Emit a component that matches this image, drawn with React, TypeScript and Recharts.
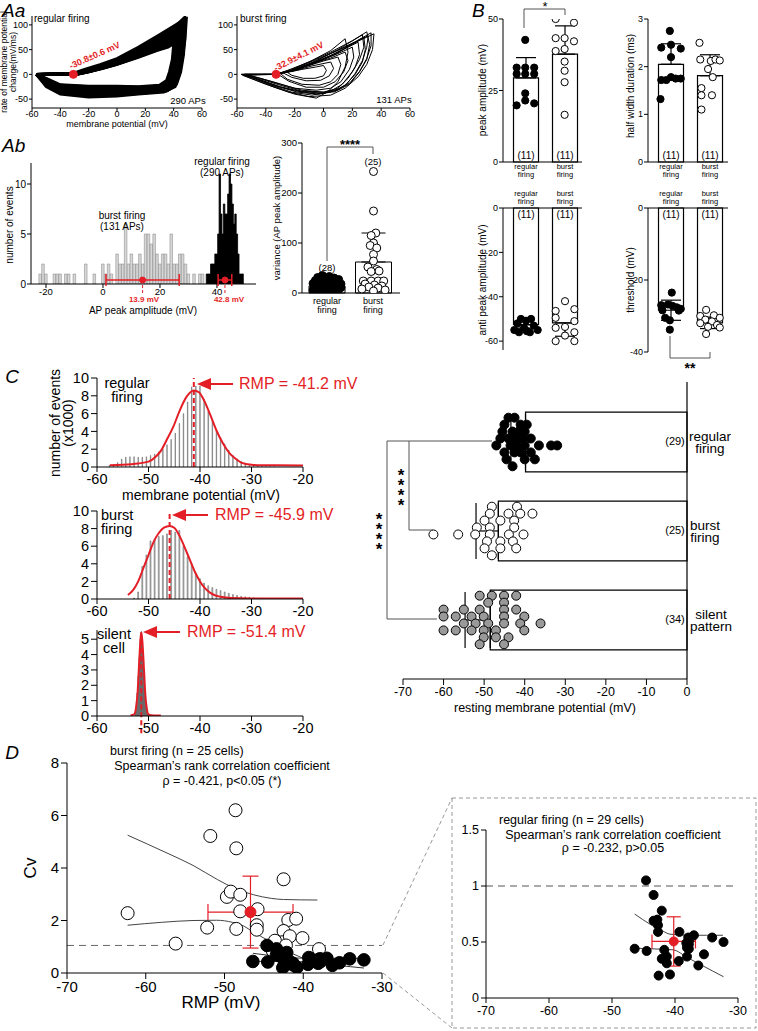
import React from "react";
import {
  Area,
  Bar,
  ComposedChart,
  ErrorBar,
  Line,
  ReferenceArea,
  ReferenceLine,
  Scatter,
  XAxis,
  YAxis,
} from "recharts";

const FONT = '"Liberation Sans", Arial, Helvetica, sans-serif';
const RED = "#e41e26";

type P = [number, number];

// ---------- Aa: phase plots (representative traces) ----------
const phaseTicksX = [-60, -40, -20, 0, 20, 40, 60];
const phaseTicksY = [-50, 0, 50, 100];
const regularThreshold: P = [-30.8, 0];
const burstThreshold: P = [-32.9, 0];

const regularLoops: P[][] = [
  [[-57,0],[-48,1],[-38,2],[-31,1],[-24,6],[-12,16],[0,30],[15,52],[30,78],[42,100],[48,116],[48,80],[47,40],[45,5],[42,-20],[36,-32],[20,-38],[0,-42],[-20,-44],[-40,-38],[-50,-22],[-57,0]],
  [[-57,0],[-48,1],[-38,1],[-31,0],[-22,7],[-10,17],[0,27],[15,46],[30,70],[42,94],[47,108],[46,70],[45,30],[43,0],[40,-22],[34,-33],[20,-36],[0,-38],[-20,-40],[-40,-35],[-50,-18],[-57,0]],
  [[-57,0],[-48,0],[-38,1],[-31,0],[-22,6],[-10,15],[0,25],[15,42],[30,62],[40,82],[46,98],[45,60],[43,20],[41,-5],[38,-25],[30,-32],[20,-34],[0,-35],[-20,-36],[-40,-31],[-50,-15],[-57,0]],
  [[-57,0],[-48,0],[-38,1],[-30,0],[-20,6],[-10,14],[0,23],[15,40],[30,58],[38,72],[44,88],[43,50],[41,15],[39,-10],[36,-25],[28,-30],[0,-30],[-20,-31],[-40,-27],[-50,-12],[-57,0]],
  [[-57,0],[-48,0],[-38,0],[-29,0],[-20,5],[-10,13],[0,21],[15,36],[30,52],[37,62],[42,75],[41,40],[39,10],[37,-12],[33,-24],[20,-28],[0,-27],[-20,-27],[-40,-24],[-50,-10],[-57,0]],
  [[-57,0],[-48,0],[-38,0],[-28,0],[-20,5],[-10,12],[0,20],[15,34],[28,48],[36,55],[40,62],[39,30],[37,5],[35,-12],[30,-22],[15,-25],[0,-24],[-20,-24],[-40,-21],[-50,-8],[-57,0]],
  [[-57,0],[-48,1],[-38,2],[-31,2],[-24,9],[-12,20],[0,32],[15,55],[30,80],[43,103],[49,112],[48,70],[46,30],[44,0],[41,-25],[33,-36],[15,-40],[0,-44],[-20,-46],[-40,-40],[-50,-25],[-57,0]],
  [[-57,0],[-48,1],[-38,1],[-31,1],[-23,8],[-11,18],[0,28],[15,48],[30,70],[40,85],[45,95],[44,55],[42,20],[40,-8],[37,-28],[25,-34],[0,-40],[-20,-42],[-40,-37],[-50,-20],[-57,0]],
  [[-57,0],[-48,1],[-38,1],[-31,1],[-23,8],[-11,19],[0,29],[15,50],[30,74],[42,97],[48,110],[47,75],[46,35],[44,2],[41,-23],[35,-34],[20,-37],[0,-40],[-20,-42],[-40,-36],[-50,-20],[-57,0]],
  [[-57,0],[-48,0],[-38,1],[-31,0],[-22,7],[-10,16],[0,26],[15,44],[30,66],[41,88],[46,102],[45,65],[44,25],[42,-3],[39,-24],[32,-32],[20,-35],[0,-36],[-20,-38],[-40,-33],[-50,-16],[-57,0]],
  [[-57,0],[-48,0],[-38,1],[-30,0],[-21,6],[-10,15],[0,24],[15,41],[30,60],[39,77],[45,92],[44,55],[42,18],[40,-8],[37,-26],[29,-31],[0,-33],[-20,-33],[-40,-29],[-50,-13],[-57,0]],
  [[-57,0],[-48,0],[-38,0],[-29,0],[-20,6],[-10,13],[0,22],[15,38],[30,55],[38,68],[43,82],[42,45],[40,12],[38,-11],[35,-24],[25,-29],[0,-28],[-20,-29],[-40,-25],[-50,-11],[-57,0]],
  [[-57,0],[-48,0],[-38,0],[-28,0],[-20,5],[-10,12],[0,20],[15,35],[29,50],[36,58],[41,68],[40,35],[38,8],[36,-12],[32,-23],[18,-26],[0,-25],[-20,-25],[-40,-22],[-50,-9],[-57,0]],
];

const burstLoops: P[][] = [
  [[-57,0],[-50,-1],[-40,0],[-33,0],[-25,8],[-10,25],[5,45],[20,68],[30,86],[32,60],[30,30],[25,5],[18,-20],[10,-32],[0,-38],[-15,-35],[-30,-25],[-45,-10],[-57,0]],
  [[-55,0],[-45,0],[-33,0],[-25,6],[-10,20],[5,38],[18,58],[28,75],[29,50],[27,25],[22,0],[15,-22],[8,-35],[-5,-40],[-20,-33],[-35,-22],[-48,-8],[-55,0]],
  [[-55,0],[-45,0],[-33,0],[-22,8],[-8,22],[8,42],[24,65],[25,40],[22,15],[17,-8],[10,-28],[0,-36],[-15,-32],[-30,-20],[-45,-7],[-55,0]],
  [[-56,-2],[-45,-1],[-33,0],[-22,9],[-5,30],[15,55],[35,82],[34,50],[30,20],[24,-5],[15,-28],[5,-42],[-10,-45],[-25,-35],[-40,-20],[-56,-2]],
  [[-54,0],[-44,0],[-33,0],[-20,8],[-5,25],[10,42],[20,55],[21,35],[18,10],[12,-15],[5,-28],[-5,-32],[-20,-28],[-35,-15],[-54,0]],
  [[-30,2],[-20,8],[-10,18],[0,27],[10,35],[12,20],[10,0],[5,-15],[-3,-22],[-15,-20],[-25,-10],[-30,2]],
  [[-28,3],[-18,9],[-8,17],[5,25],[7,12],[4,-3],[-2,-12],[-12,-13],[-22,-6],[-28,3]],
  [[-25,4],[-15,10],[-5,15],[0,18],[2,8],[0,-3],[-6,-8],[-14,-8],[-22,-2],[-25,4]],
  [[-57,0],[-45,0],[-33,0],[-22,10],[-8,28],[5,48],[15,72],[17,45],[15,15],[10,-15],[3,-35],[-5,-48],[-20,-40],[-35,-25],[-50,-8],[-57,0]],
  [[-56,0],[-45,0],[-33,0],[-22,7],[-8,20],[8,40],[25,70],[31,78],[30,55],[27,28],[22,2],[16,-20],[8,-33],[-3,-40],[-18,-36],[-32,-24],[-46,-9],[-56,0]],
  [[-56,0],[-45,0],[-33,0],[-22,8],[-8,24],[8,46],[22,66],[33,84],[33,58],[30,32],[25,6],[18,-18],[10,-30],[0,-36],[-15,-34],[-30,-22],[-45,-8],[-56,0]],
  [[-55,0],[-44,0],[-33,0],[-20,9],[-6,26],[10,50],[27,80],[28,55],[25,30],[20,5],[13,-20],[5,-34],[-8,-42],[-22,-36],[-38,-20],[-55,0]],
  [[-32,1],[-22,7],[-10,20],[5,33],[15,45],[17,28],[14,5],[8,-15],[0,-26],[-12,-26],[-24,-14],[-32,1]],
];

// ---------- Ab: AP peak amplitude histogram ----------
const burstPeakHist: P[] = [
  [-22,1],[-21,2],[-20,1],[-17,1],[-16,1],[-15,1],[-13,1],[-12,1],[-10,1],[-6,2],[-3,1],[0,2],[1,1],[2,2],
  [3,1],[5,3],[6,2],[7,2],[8,6],[9,2],[10,3],[11,2],[12,2],[13,3],[14,2],[15,5],[16,5],[17,4],[18,5],
  [19,3],[20,2],[21,3],[22,3],[23,2],[24,5],[25,2],[26,2],[27,3],[28,3],[29,2],[30,1],[32,1],[34,1],[35,1],
];
const regularPeakHist: P[] = [
  [36,0],[36.5,1],[37,1],[37.5,1],[38,2],[38.5,2],[39,2],[39.5,3],[40,3],[40.5,5],[41,11],[41.5,7],[42,5],[42.5,8],
  [43,7],[43.5,7],[44,9],[44.5,11],[45,10],[45.5,8],[46,6],[46.5,7],[47,5],[47.5,3],[48,1],[48.5,1],[49,1],[49.5,0],
];
const peakMeans = [
  { x: 13.9, y: 0.4, e: 12.85 },
  { x: 42.8, y: 0.4, e: 2.4 },
];

// ---------- Ab: variance ----------
const varianceMean = [14, 62];
const varianceSD: P[] = [[0, 9], [0, 58]];
const varianceRegular: P[] = [
  [35,-0.1],[33,0.05],[31,-0.2],[30,0.15],[28,-0.05],[27,0.25],[25,-0.25],[24,0.1],[22,-0.12],[21,0.2],
  [20,0],[19,-0.3],[18,0.3],[17,-0.15],[16,0.12],[15,-0.05],[14,0.22],[13,-0.25],[12,0.05],[11,0.3],
  [10,-0.2],[9,0.12],[8,-0.08],[7,0.25],[6,-0.3],[5,0.05],[4,-0.15],[3,0.18],
];
const varianceBurst: P[] = [
  [243,0],[164,0],[120,0.05],[115,-0.05],[100,0],[95,-0.07],[90,0.07],[77,0],[64,0],[52,-0.12],[47,0.07],
  [43,-0.05],[44,0.12],[24,-0.22],[24,-0.05],[24,0.1],[24,0.22],[18,-0.18],[16,0.02],[14,0.18],[12,-0.1],
  [10,0.1],[8,-0.25],[6,0.25],[4,0],
];

// ---------- B: AP parameters (value, jitter) ----------
const peakAmpMean = [29.4, 37.7];
const peakAmpSD: P[] = [[0, 7.1], [0, 9.9]];
const peakAmpRegular: P[] = [[42.7,-0.02],[33,-0.24],[33,-0.02],[33,0.21],[30.8,-0.24],[30.8,-0.02],[30.8,0.21],[24,-0.02],[21.5,-0.02],[20.5,0.21],[19.8,-0.24]];
const peakAmpBurst: P[] = [[50,-0.24],[48.7,0.23],[43.3,-0.24],[43.3,-0.01],[42.2,0.23],[38.8,-0.24],[39.5,-0.01],[35.1,-0.01],[31.9,-0.01],[27.9,-0.01],[16.5,-0.01]];

const halfWidthMean = [2.05, 1.81];
const halfWidthSD: P[] = [[0, 0.43], [0, 0.44]];
const halfWidthRegular: P[] = [[2.75,-0.03],[2.4,-0.25],[2.46,0],[2.38,0.25],[2.2,0],[1.78,0],[1.72,-0.25],[1.75,0.12],[1.75,0.25],[1.72,-0.12],[1.32,-0.27]];
const halfWidthBurst: P[] = [[2.5,-0.27],[2.15,-0.25],[2.12,0.02],[2.15,0.14],[2.13,0.25],[1.95,-0.05],[1.78,0.07],[1.55,-0.22],[1.4,-0.22],[1.4,0.05],[1.1,-0.22]];

const antiPeakMean = [-52.6, -51.8];
const antiPeakSD: P[] = [[1.5, 0], [6, 0]];
const antiPeakRegular: P[] = [[-50,-0.13],[-50,0.13],[-50.8,0],[-52,-0.22],[-53,0.2],[-54,-0.05],[-55,-0.3],[-55,0.3],[-56,-0.18],[-56,0.1],[-55.5,0.02]];
const antiPeakBurst: P[] = [[-42,0],[-46.4,-0.24],[-45.6,0.24],[-49.5,-0.24],[-51,0.24],[-54,-0.24],[-53.6,0],[-56,0.24],[-57.5,0],[-60,-0.24],[-60,0.24]];

const thresholdMean = [-28.4, -31.9];
const thresholdSD: P[] = [[2.8, 2.8], [1.6, 1.6]];
const thresholdRegular: P[] = [[-23.5,0.02],[-27,-0.25],[-26.8,-0.08],[-27.2,0.04],[-27.6,0.15],[-28,0.25],[-28.4,-0.22],[-28.5,0.2],[-30.5,-0.15],[-31.2,-0.03],[-33.8,-0.03]];
const thresholdBurst: P[] = [[-28.3,-0.1],[-30,-0.25],[-29.8,0.1],[-30.5,0.25],[-31,-0.12],[-31.5,0.05],[-32,-0.25],[-32.5,0.18],[-33,-0.05],[-33.2,0.25],[-35,-0.1]];

// ---------- C: membrane potential histograms (x1000) ----------
const mpTicks = [-60, -50, -40, -30, -20];
const countTicks = [0, 2, 4, 6, 8, 10];
const silentTicks = [0, 1, 2, 3, 4, 5];
const regularMpHist: P[] = [
  [-57.6,0.2],[-56.8,0.3],[-56,0.5],[-55.2,0.9],[-54.4,1.1],[-53.6,1.15],[-52.8,1.15],[-52,1.1],[-51.2,1.1],
  [-50.4,1.15],[-49.6,1.3],[-48.8,1.45],[-48,1.7],[-47.2,2],[-46.4,2.5],[-45.6,3.1],[-44.8,3.8],[-44,4.9],
  [-43.2,6],[-42.4,7.3],[-41.6,9],[-40.8,9.1],[-40,9.1],[-39.2,7.6],[-38.4,6.3],[-37.6,5.2],[-36.8,4.1],
  [-36,3.3],[-35.2,2.6],[-34.4,1.9],[-33.6,1.3],[-32.8,0.9],[-32,0.65],[-31.2,0.45],[-30.4,0.3],[-29.6,0.2],
  [-28.8,0.15],[-28,0.1],[-27.2,0.05],[-26.4,0.05],[-25.6,0.03],
];
const regularMpFit: P[] = [
  [-57.5,0.2],[-55,0.25],[-52,0.4],[-50,0.6],[-48.5,1.2],[-47.5,1.9],[-46.5,3],[-45.2,4.5],[-43.9,6.4],
  [-42.6,7.9],[-41.2,8.6],[-40.2,8.4],[-39.4,7.7],[-38.1,6],[-36.8,4.1],[-35.5,2.6],[-34.2,1.5],[-33,0.9],
  [-32,0.5],[-30,0.25],[-28,0.2],[-20,0.18],
];
const burstMpHist: P[] = [
  [-52.8,0.1],[-52,0.8],[-51.2,3.7],[-50.4,5],[-49.6,6.6],[-48.8,6.8],[-48,7.1],[-47.2,7.2],[-46.4,7.4],
  [-45.6,7.8],[-44.8,7.6],[-44,7.8],[-43.2,6],[-42.4,4.8],[-41.6,4],[-40.8,2.9],[-40,2.3],[-39.2,1.8],
  [-38.4,1.5],[-37.6,1.3],[-36.8,1.1],[-36,0.95],[-35.2,0.8],[-34.4,0.65],[-33.6,0.5],[-32.8,0.4],[-32,0.3],
  [-31.2,0.25],[-30.4,0.2],[-29.6,0.15],[-28.8,0.1],[-28,0.07],[-27.2,0.05],[-26.4,0.03],
];
const burstMpFit: P[] = [
  [-54,0.45],[-53,1],[-52,2],[-51,3.5],[-50,5],[-49,6.5],[-48,7.5],[-47,8.1],[-45.9,8.3],[-45,8.1],[-44,7.2],
  [-43,5.9],[-42,4.5],[-41,3.1],[-40,2],[-39,1.2],[-38,0.7],[-37,0.4],[-36,0.25],[-34,0.1],[-30,0.05],[-20,0.05],
];
const silentMpHist: P[] = [
  [-52.6,0.2],[-52.4,0.6],[-52.2,1.5],[-52,2.6],[-51.8,3.8],[-51.6,5],[-51.4,5.5],[-51.2,5],[-51,3.9],
  [-50.8,2.7],[-50.6,1.5],[-50.4,0.8],[-50.2,0.4],[-50,0.15],[-49.8,0.05],
];
const silentMpFit: P[] = [
  [-53.5,0.03],[-52.8,0.1],[-52.4,0.6],[-52.1,1.6],[-51.9,2.9],[-51.7,4.2],[-51.5,5.2],[-51.4,5.4],[-51.2,4.9],
  [-51,3.8],[-50.8,2.5],[-50.6,1.3],[-50.3,0.4],[-50,0.1],[-49,0.03],[-47.6,0.03],
];
const rmpFits = [-41.2, -45.9, -51.4];

// ---------- C: resting membrane potential by pattern (value, swarm row) ----------
const rmpTicks = [-70, -60, -50, -40, -30, -20, -10, 0];
const rmpRegular: P[] = [
  [-44,-3.5],[-42.5,-3.5],[-45,-2.5],[-41,-2.5],[-39.5,-2.5],[-45.5,-1.5],[-43,-1.5],[-41.5,-1.5],[-40,-1.5],
  [-46,-0.5],[-44,-0.5],[-42,-0.5],[-40.5,-0.5],[-38.5,-0.5],[-47,0.5],[-43.5,0.5],[-42,0.5],[-40,0.5],
  [-36.5,0.5],[-33.5,0.5],[-32,0.5],[-45,1.5],[-42.5,1.5],[-41,1.5],[-38.5,1.5],[-44.5,2.5],[-40,2.5],
  [-37.5,2.5],[-43,3.5],
];
const rmpBurst: P[] = [
  [-48.1,-3.5],[-41.9,-3.5],[-48.6,-2.5],[-44,-2.5],[-41.1,-2.5],[-38.1,-2.5],[-49.9,-1.5],[-46,-1.5],
  [-42.6,-1.5],[-51.8,-0.5],[-48.6,-0.5],[-42.6,-0.5],[-62.5,0.5],[-56.4,0.5],[-52.2,0.5],[-48.6,0.5],
  [-43.9,0.5],[-40.3,0.5],[-49.3,1.5],[-46,1.5],[-42.9,1.5],[-49.9,2.5],[-46,2.5],[-42.1,2.5],[-48.1,3.5],
];
const rmpSilent: P[] = [
  [-51.1,-3.5],[-48.1,-3.5],[-45.1,-3.5],[-42.1,-3.5],[-49,-2.5],[-45.1,-2.5],[-60,-1.5],[-55,-1.5],
  [-51.1,-1.5],[-45.1,-1.5],[-42.1,-1.5],[-60,-0.5],[-57,-0.5],[-53.1,-0.5],[-50.1,-0.5],[-45.1,-0.5],
  [-40.1,-0.5],[-55,0.5],[-52.1,0.5],[-49,0.5],[-45.1,0.5],[-41.1,0.5],[-36.1,0.5],[-60,1.5],[-57,1.5],
  [-53.1,1.5],[-50.1,1.5],[-47.1,1.5],[-40.1,1.5],[-50.1,2.5],[-47.1,2.5],[-44,2.5],[-51.1,3.5],[-45.1,3.5],
];
const rmpMean = [-39.8, -46.5, -48.5];
const rmpSD = [3.6, 5.5, 6.2];

// ---------- D: Cv vs RMP ----------
const cvTicksX = [-70, -60, -50, -40, -30];
const cvTicksY = [0, 2, 4, 6, 8];
const insetTicksY = [0, 0.5, 1, 1.5];
const cvBurst: P[] = [
  [-62.3,2.28],[-56.2,1.12],[-52.2,1.73],[-51.8,5.22],[-49.7,2.9],[-49.2,3.1],[-48.6,6.2],[-48.5,4.75],
  [-48.5,1.68],[-48,2.98],[-48,2.35],[-45.8,2.43],[-45.9,1.82],[-45.9,1.65],[-42.5,3.57],[-41.9,2.02],
  [-40.9,2.07],[-42.5,1.6],[-42.7,1.17],[-41.7,1.4],[-43.6,1.23],[-40.1,1.33],[-43.9,0.86],[-38,0.91],[-42.2,1.05],
];
const cvRegular: P[] = [
  [-44.6,1.05],[-43.4,0.92],[-42.1,0.78],[-43.4,0.69],[-42.8,0.7],[-42.7,0.65],[-42.7,0.59],[-39.3,0.59],
  [-46.4,0.44],[-44.5,0.42],[-41.7,0.43],[-42.1,0.35],[-41.3,0.37],[-41.3,0.31],[-42.6,0.2],[-40.8,0.21],
  [-39.4,0.33],[-37.9,0.54],[-37,0.56],[-38.2,0.49],[-37.8,0.48],[-38.1,0.45],[-37.8,0.44],[-38.1,0.37],
  [-36.3,0.29],[-35.4,0.39],[-34.1,0.54],[-32.3,0.5],[-37.7,0.52],
];
const burstCiUpper: P[] = [[-62.3,5.25],[-57.3,4.57],[-54,4.1],[-50.9,3.56],[-48.5,3.2],[-46.3,2.98],[-44,2.84],[-42.5,2.8],[-38.2,2.78]];
const burstCiLower: P[] = [[-62.3,1.82],[-58,1.93],[-54,2],[-51,2.01],[-49,1.93],[-47.5,1.78],[-46.3,1.55],[-44.5,1.25],[-42.5,0.9],[-40.3,0.6],[-38.5,0.4]];
const regularCiUpper: P[] = [[-46.4,0.75],[-44,0.66],[-42,0.6],[-40.8,0.57],[-38,0.56],[-35,0.56],[-32.4,0.56]];
const regularCiLower: P[] = [[-46.4,0.445],[-44,0.44],[-42,0.435],[-40.3,0.43],[-38,0.36],[-36,0.3],[-34,0.24],[-32.3,0.19]];
const cvBurstMean = { x: -46.7, y: 2.32, ex: 5.4, ey: 1.37 };
const cvRegularMean = { x: -40.2, y: 0.505, ex: 3.45, ey: 0.22 };

// ---------- helpers ----------
const xy = (pts: P[]) => pts.map(([x, y]) => ({ x, y }));
const jit = (pts: P[], c: number) => pts.map(([v, o]) => ({ x: c + o, y: v }));

const yTick = (fs: number) => (p: any) => (
  <text x={p.x} y={p.y} dy="0.35em" textAnchor="end" fontSize={fs} fontFamily={FONT} fill="#000">
    {p.payload.value}
  </text>
);
const xTick = (fs: number) => (p: any) => (
  <text x={p.x} y={p.y} dy="0.72em" textAnchor="middle" fontSize={fs} fontFamily={FONT} fill="#000">
    {p.payload.value}
  </text>
);
const blankTick = () => <g />;

const axis = (fs: number, ts: number, tm: number, vertical: boolean) => ({
  axisLine: { stroke: "#000", strokeWidth: 1 },
  tickLine: { stroke: "#000", strokeWidth: 1 },
  tickSize: ts,
  tickMargin: tm,
  tick: vertical ? yTick(fs) : xTick(fs),
  allowDataOverflow: true,
});
const hidden = { axisLine: false, tickLine: false, tick: false, allowDataOverflow: true } as any;

// y tick labels hung on invisible reference lines so none of them gets dropped
const yLabels = (ticks: number[], fs: number, off: number) =>
  ticks.map((v) => (
    <ReferenceLine
      key={`yl${v}`}
      y={v}
      stroke="none"
      ifOverflow="visible"
      label={{ value: String(v), position: "left", offset: off, fontSize: fs, fill: "#000", fontFamily: FONT }}
    />
  ));

const dot = (r: number, fill: string, stroke = "#000", sw = 1) => (p: any) => (
  <circle cx={p.cx} cy={p.cy} r={r} fill={fill} stroke={stroke} strokeWidth={sw} />
);
const none = () => <g />;

function Frame({ L, T, R, B, yW, xH, top = false, data, children }: any) {
  const m = 14;
  return (
    <div style={{ position: "absolute", left: L - yW - m, top: T - m - (top ? xH : 0) }}>
      <ComposedChart
        width={R - L + yW + 2 * m}
        height={B - T + 2 * m + xH}
        margin={{ top: m, right: m, bottom: m, left: m }}
        data={data}
      >
        {children}
      </ComposedChart>
    </div>
  );
}

function Txt({ x, y, s = 10, c = "#000", a = "c", rot = 0, it = false, bold = false, lh = 1.05, children }: any) {
  const tx = a === "l" ? "0" : a === "r" ? "-100%" : "-50%";
  return (
    <div
      style={{
        position: "absolute",
        left: x,
        top: y,
        transform: `translate(${tx}, -50%) rotate(${rot}deg)`,
        fontSize: s,
        color: c,
        fontStyle: it ? "italic" : "normal",
        fontWeight: bold ? 700 : 400,
        whiteSpace: "pre",
        lineHeight: lh,
        textAlign: a === "l" ? "left" : a === "r" ? "right" : "center",
        fontFamily: FONT,
      }}
    >
      {children}
    </div>
  );
}

function phasePlot(L: number, R: number, loops: P[][], thr: P, sw: number) {
  return (
    <Frame L={L} T={16} R={R} B={108} yW={24} xH={14}>
      <XAxis type="number" dataKey="x" domain={[-60, 60]} ticks={phaseTicksX} interval={0} height={14} {...axis(9, 3, 0, false)} />
      <YAxis type="number" dataKey="y" domain={[-68, 118]} ticks={phaseTicksY} interval={0} width={24} {...axis(9, 3, 1, true)} />
      {loops.map((l, i) => (
        <Line key={i} data={xy(l)} dataKey="y" type="linear" stroke="#000" strokeWidth={sw} dot={false} isAnimationActive={false} />
      ))}
      <Scatter data={xy([thr])} shape={dot(4, RED, RED)} isAnimationActive={false} />
    </Frame>
  );
}

// bar + points charts: bars drawn as reference areas so jittered points do not shrink the band
function barDots(L: number, T: number, R: number, B: number, dom: number[], ticks: number[], top: boolean, means: number[], errs: P[], reg: P[], bur: P[]) {
  const unit = 39;
  const half = 12.5 / unit;
  return (
    <Frame L={L} T={T} R={R} B={B} yW={22} xH={4} top={top}>
      <XAxis type="number" dataKey="x" domain={[0.41, 0.41 + (R - L) / unit]} orientation={top ? "top" : "bottom"} height={4} axisLine={{ stroke: "#000" }} tickLine={false} tick={false} allowDataOverflow />
      <YAxis type="number" dataKey="y" domain={dom} ticks={ticks} interval={0} width={22} {...axis(9, 4, 1, true)} />
      {means.map((m, i) => (
        <ReferenceArea key={i} x1={i + 1 - half} x2={i + 1 + half} y1={0} y2={m} fill="#fff" fillOpacity={1} stroke="#000" strokeWidth={1.2} ifOverflow="visible" />
      ))}
      <Scatter data={means.map((m, i) => ({ x: i + 1, y: m, e: errs[i] }))} shape={none} isAnimationActive={false}>
        <ErrorBar dataKey="e" width={10} stroke="#000" strokeWidth={1.2} direction="y" />
      </Scatter>
      <Scatter data={jit(reg, 1)} shape={dot(3.6, "#000")} isAnimationActive={false} />
      <Scatter data={jit(bur, 2)} shape={dot(3.6, "#fff")} isAnimationActive={false} />
    </Frame>
  );
}

function mpHist(T: number, B: number, dom: number[], ticks: number[], hist: P[], fit: P[], rmp: number, bs: number, fill: string, below: boolean) {
  return (
    <Frame L={97} T={T} R={303} B={B} yW={30} xH={20} data={xy(hist)}>
      <XAxis type="number" dataKey="x" domain={[-60, -20]} ticks={mpTicks} interval={0} height={20} {...axis(14.5, 5, 2, false)} />
      <YAxis type="number" dataKey="y" domain={dom} ticks={ticks} interval={0} width={30} {...axis(14.5, 6, 2, true)} tick={blankTick} />
      {yLabels(ticks, 14.5, 8)}
      <Bar dataKey="y" barSize={bs} fill={fill} stroke="#555" strokeWidth={0.5} isAnimationActive={false} />
      <Line data={xy(fit)} dataKey="y" type="monotone" stroke={RED} strokeWidth={2} dot={false} isAnimationActive={false} />
      <ReferenceLine segment={[{ x: rmp, y: below ? -dom[1] * 0.2 : 0 }, { x: rmp, y: dom[1] }]} stroke={RED} strokeWidth={2} strokeDasharray="5 3" ifOverflow="visible" />
    </Frame>
  );
}

const rmpGroups = [
  { pts: rmpRegular, pos: 3, fill: "#000" },
  { pts: rmpBurst, pos: 2, fill: "#fff" },
  { pts: rmpSilent, pos: 1, fill: "#999" },
];
const ROW = 0.078;

export default function App() {
  const vHalf = 18 / 46.5;
  return (
    <div style={{ position: "absolute", left: 0, top: 0, width: 758, height: 1031, background: "#fff", overflow: "hidden", fontFamily: FONT }}>
      {/* Aa */}
      {phasePlot(32, 202, regularLoops, regularThreshold, 2.8)}
      {phasePlot(237, 410, burstLoops, burstThreshold, 1)}

      {/* Ab histogram */}
      <Frame L={31} T={163} R={256} B={284} yW={22} xH={14} data={xy(burstPeakHist)}>
        <XAxis type="number" dataKey="x" domain={[-25.26, 53.7]} ticks={[-20, 0, 20, 40]} interval={0} height={14} {...axis(9.5, 4, 0, false)} />
        <YAxis type="number" dataKey="y" domain={[0, 12.1]} ticks={[0, 5, 10]} interval={0} width={22} {...axis(10, 4, 1, true)} />
        <Bar dataKey="y" barSize={2.6} fill="#d6d6d6" stroke="#808080" strokeWidth={0.5} isAnimationActive={false} />
      </Frame>
      <Frame L={31} T={163} R={256} B={284} yW={22} xH={14} data={xy(regularPeakHist)}>
        <XAxis type="number" dataKey="x" domain={[-25.26, 53.7]} height={14} {...hidden} />
        <YAxis type="number" dataKey="y" domain={[0, 12.1]} width={22} {...hidden} />
        <Area dataKey="y" type="step" fill="#000" fillOpacity={1} stroke="#000" strokeWidth={0.8} isAnimationActive={false} />
        {peakMeans.map((m) => (
          <ReferenceLine key={m.x} segment={[{ x: m.x, y: m.y }, { x: m.x, y: -1.1 }]} stroke={RED} strokeDasharray="3 2" ifOverflow="visible" />
        ))}
        <Scatter data={peakMeans} shape={dot(3, RED, RED)} isAnimationActive={false}>
          <ErrorBar dataKey="e" direction="x" width={6} stroke={RED} strokeWidth={1.5} />
        </Scatter>
      </Frame>

      {/* Ab variance */}
      <Frame L={302} T={143} R={400} B={293} yW={24} xH={4}>
        <XAxis type="number" dataKey="x" domain={[0.462, 2.57]} height={4} axisLine={{ stroke: "#000" }} tickLine={false} tick={false} allowDataOverflow />
        <YAxis type="number" dataKey="y" domain={[0, 300]} ticks={[0, 100, 200, 300]} interval={0} width={24} {...axis(9.5, 4, 1, true)} />
        {varianceMean.map((m, i) => (
          <ReferenceArea key={i} x1={i + 1 - vHalf} x2={i + 1 + vHalf} y1={0} y2={m} fill="#fff" fillOpacity={1} stroke="#000" strokeWidth={1} ifOverflow="visible" />
        ))}
        <Scatter data={varianceMean.map((m, i) => ({ x: i + 1, y: m, e: varianceSD[i] }))} shape={none} isAnimationActive={false}>
          <ErrorBar dataKey="e" width={12} stroke="#000" strokeWidth={1} direction="y" />
        </Scatter>
        <Scatter data={jit(varianceRegular, 1)} shape={dot(4, "#000")} isAnimationActive={false} />
        <Scatter data={jit(varianceBurst, 2)} shape={dot(4, "#fff")} isAnimationActive={false} />
      </Frame>

      {/* B */}
      {barDots(503, 19, 582, 162, [0, 50], [0, 25, 50], false, peakAmpMean, peakAmpSD, peakAmpRegular, peakAmpBurst)}
      {barDots(648, 19, 728, 162, [0, 3], [0, 1, 2, 3], false, halfWidthMean, halfWidthSD, halfWidthRegular, halfWidthBurst)}
      {barDots(503, 208, 582, 350, [-64, 0], [-60, -40, -20, 0], true, antiPeakMean, antiPeakSD, antiPeakRegular, antiPeakBurst)}
      {barDots(648, 208, 728, 352, [-40, 0], [-40, -20, 0], true, thresholdMean, thresholdSD, thresholdRegular, thresholdBurst)}

      {/* C histograms */}
      {mpHist(378, 467, [0, 10], countTicks, regularMpHist, regularMpFit, rmpFits[0], 4, "#d0d0d0", false)}
      {mpHist(511, 599, [0, 10], countTicks, burstMpHist, burstMpFit, rmpFits[1], 4, "#d0d0d0", false)}
      {mpHist(630, 716, [0, 5.6], silentTicks, silentMpHist, silentMpFit, rmpFits[2], 1, "#333", true)}

      {/* C resting membrane potential */}
      <Frame L={403} T={382} R={687} B={679} yW={0} xH={20}>
        <XAxis type="number" dataKey="x" domain={[-70, 0]} ticks={rmpTicks} interval={0} height={20} {...axis(12.5, 6, 2, false)} />
        <YAxis type="number" dataKey="y" domain={[0.337, 3.674]} hide width={0} allowDataOverflow />
        {rmpGroups.map((g, i) => (
          <ReferenceArea key={i} x1={rmpMean[i]} x2={0} y1={g.pos - 0.335} y2={g.pos + 0.335} fill="#fff" fillOpacity={1} stroke="#000" strokeWidth={1.2} ifOverflow="visible" />
        ))}
        <ReferenceLine x={0} stroke="#000" strokeWidth={1.2} ifOverflow="visible" />
        {rmpGroups.map((g, i) => (
          <Scatter key={i} data={g.pts.map(([v, r]) => ({ x: v, y: g.pos - r * ROW }))} shape={dot(4.5, g.fill)} isAnimationActive={false} />
        ))}
        <Scatter data={rmpGroups.map((g, i) => ({ x: rmpMean[i], y: g.pos, e: [rmpSD[i], 0] }))} shape={none} isAnimationActive={false}>
          <ErrorBar dataKey="e" direction="x" width={28} stroke="#000" strokeWidth={1.2} />
        </Scatter>
      </Frame>

      {/* D main */}
      <Frame L={67} T={763} R={382} B={973} yW={26} xH={22}>
        <XAxis type="number" dataKey="x" domain={[-70, -30]} ticks={cvTicksX} interval={0} height={22} {...axis(15, 6, 2, false)} />
        <YAxis type="number" dataKey="y" domain={[0, 8]} ticks={cvTicksY} interval={0} width={26} {...axis(15, 6, 2, true)} tick={blankTick} />
        {yLabels(cvTicksY, 15, 8)}
        <ReferenceLine y={1.05} stroke="#666" strokeDasharray="7 5" />
        <Line data={xy(burstCiUpper)} dataKey="y" type="monotone" stroke="#444" strokeWidth={1} dot={false} isAnimationActive={false} />
        <Line data={xy(burstCiLower)} dataKey="y" type="monotone" stroke="#444" strokeWidth={1} dot={false} isAnimationActive={false} />
        <Scatter data={xy(cvBurst)} shape={dot(6.5, "#fff")} isAnimationActive={false} />
        <Scatter data={xy(cvRegular)} shape={dot(6.3, "#000")} isAnimationActive={false} />
        <Line data={xy(regularCiUpper)} dataKey="y" type="monotone" stroke="#333" strokeWidth={1} dot={false} isAnimationActive={false} />
        <Line data={xy(regularCiLower)} dataKey="y" type="monotone" stroke="#333" strokeWidth={1} dot={false} isAnimationActive={false} />
        <Scatter data={[cvBurstMean]} shape={dot(5.5, RED, RED)} isAnimationActive={false}>
          <ErrorBar dataKey="ex" direction="x" width={8} stroke={RED} strokeWidth={1.2} />
          <ErrorBar dataKey="ey" direction="y" width={8} stroke={RED} strokeWidth={1.2} />
        </Scatter>
      </Frame>

      {/* D inset */}
      <Frame L={486} T={830} R={738} B={998} yW={28} xH={20}>
        <XAxis type="number" dataKey="x" domain={[-70, -30]} ticks={cvTicksX} interval={0} height={20} {...axis(12.5, 5, 3, false)} />
        <YAxis type="number" dataKey="y" domain={[0, 1.5]} ticks={insetTicksY} interval={0} width={28} {...axis(12.5, 5, 1, true)} tick={blankTick} />
        {yLabels(insetTicksY, 12.5, 7)}
        <ReferenceLine y={1} stroke="#555" strokeDasharray="7 5" />
        <Line data={xy(regularCiUpper)} dataKey="y" type="monotone" stroke="#444" strokeWidth={1} dot={false} isAnimationActive={false} />
        <Line data={xy(regularCiLower)} dataKey="y" type="monotone" stroke="#444" strokeWidth={1} dot={false} isAnimationActive={false} />
        <Scatter data={xy(cvRegular)} shape={dot(4.5, "#000")} isAnimationActive={false} />
        <Scatter data={[cvRegularMean]} shape={dot(4.5, RED, RED)} isAnimationActive={false}>
          <ErrorBar dataKey="ex" direction="x" width={7} stroke={RED} strokeWidth={1.2} />
          <ErrorBar dataKey="ey" direction="y" width={7} stroke={RED} strokeWidth={1.2} />
        </Scatter>
      </Frame>

      {/* annotation strokes */}
      <svg width={758} height={1031} style={{ position: "absolute", left: 0, top: 0, pointerEvents: "none" }}>
        <g fill="none" stroke="#555" strokeWidth={1}>
          <polyline points="327,261 327,147 373,147 373,154" />
          <polyline points="524,28 524,9 565,9 565,15" />
          <polyline points="670,336 670,358 710,358 710,352" />
          <polyline points="492,441 387,441 387,619 437,619" />
          <polyline points="409,441 409,530 433,530" />
        </g>
        <g stroke={RED} strokeWidth={2} fill={RED}>
          <line x1={209} y1={384} x2={233} y2={384} />
          <polygon points="197,384 211,378 211,390" stroke="none" />
          <line x1={184} y1={515} x2={208} y2={515} />
          <polygon points="172,515 186,509 186,521" stroke="none" />
          <line x1={155} y1={632} x2={180} y2={632} />
          <polygon points="143,632 157,626 157,638" stroke="none" />
        </g>
        <g fill="none" stroke="#999" strokeWidth={1} strokeDasharray="4 3">
          <rect x={452} y={798} width={304} height={230} />
          <line x1={383} y1={945} x2={452} y2={798} />
          <line x1={383} y1={973} x2={452} y2={1028} />
        </g>
      </svg>

      {/* Aa texts */}
      <Txt x={2} y={11} a="l" s={19} it>Aa</Txt>
      <Txt x={34} y={19} a="l" s={10}>regular firing</Txt>
      <Txt x={240} y={19} a="l" s={10}>burst firing</Txt>
      <Txt x={188} y={101} s={9.5}>290 APs</Txt>
      <Txt x={394} y={100} s={9.5}>131 APs</Txt>
      <Txt x={8} y={62} s={8.5} rot={-90} lh={1}>{"rate of membrane potential\nchange(mV/ms)"}</Txt>
      <Txt x={117} y={125} s={9}>membrane potential (mV)</Txt>
      <Txt x={95} y={56} s={9} rot={-24} bold c={RED}>-30.8±0.6 mV</Txt>
      <Txt x={299} y={57} s={9} rot={-27} bold c={RED}>-32.9±4.1 mV</Txt>

      {/* Ab texts */}
      <Txt x={2} y={146} a="l" s={19} it>Ab</Txt>
      <Txt x={10} y={225} s={10} rot={-90}>number of events</Txt>
      <Txt x={143} y={311} s={10}>AP peak amplitude (mV)</Txt>
      <Txt x={122} y={221} s={10}>{"burst firing\n(131 APs)"}</Txt>
      <Txt x={222} y={167} s={10}>{"regular firing\n(290 APs)"}</Txt>
      <Txt x={144} y={300} s={8} bold c={RED}>13.9 mV</Txt>
      <Txt x={229} y={300} s={8} bold c={RED}>42.8 mV</Txt>
      <Txt x={277} y={218} s={9.5} rot={-90}>variance (AP peak amplitude)</Txt>
      <Txt x={350} y={145} s={13} bold>****</Txt>
      <Txt x={373} y={162} s={9.5}>(25)</Txt>
      <Txt x={327} y={268} s={9.5}>(28)</Txt>
      <Txt x={327} y={306} s={9}>{"regular\nfiring"}</Txt>
      <Txt x={373} y={306} s={9}>{"burst\nfiring"}</Txt>

      {/* B texts */}
      <Txt x={472} y={11} a="l" s={19} it>B</Txt>
      <Txt x={545} y={7} s={13}>*</Txt>
      <Txt x={483} y={90} s={10} rot={-90}>peak amplitude (mV)</Txt>
      <Txt x={631} y={86} s={10} rot={-90}>half width duration (ms)</Txt>
      <Txt x={483} y={280} s={10} rot={-90}>anti peak amplitude (mV)</Txt>
      <Txt x={631} y={280} s={10} rot={-90}>threshold (mV)</Txt>
      <Txt x={690} y={368} s={14} bold>**</Txt>
      {[526, 565, 671, 710].map((x) => (
        <React.Fragment key={x}>
          <Txt x={x} y={156} s={10}>(11)</Txt>
          <Txt x={x} y={215} s={10}>(11)</Txt>
          <Txt x={x} y={171} s={7.5}>{x === 526 || x === 671 ? "regular\nfiring" : "burst\nfiring"}</Txt>
          <Txt x={x} y={198} s={7.5}>{x === 526 || x === 671 ? "regular\nfiring" : "burst\nfiring"}</Txt>
        </React.Fragment>
      ))}

      {/* C texts */}
      <Txt x={12} y={377} s={19} it>C</Txt>
      <Txt x={127} y={390} s={14.5} lh={0.98}>{"regular\nfiring"}</Txt>
      <Txt x={101} y={522} a="l" s={14.5} lh={0.98}>{"burst\nfiring"}</Txt>
      <Txt x={114} y={641} s={14.5} lh={0.98}>{"silent\ncell"}</Txt>
      <Txt x={62} y={423} s={14} rot={-90} lh={0.95}>{"number of events\n(x1000)"}</Txt>
      <Txt x={201} y={495} s={14}>membrane potential (mV)</Txt>
      <Txt x={239} y={384} a="l" s={16} c={RED}>RMP = -41.2 mV</Txt>
      <Txt x={215} y={515} a="l" s={16} c={RED}>RMP = -45.9 mV</Txt>
      <Txt x={187} y={632} a="l" s={16} c={RED}>RMP = -51.4 mV</Txt>
      <Txt x={675} y={442} s={11}>(29)</Txt>
      <Txt x={675} y={531} s={11}>(25)</Txt>
      <Txt x={675} y={620} s={11}>(34)</Txt>
      <Txt x={710} y={443} s={13.5} lh={0.9}>{"regular\nfiring"}</Txt>
      <Txt x={705} y={532} s={13.5} lh={0.9}>{"burst\nfiring"}</Txt>
      <Txt x={711} y={621} s={13.5} lh={0.9}>{"silent\npattern"}</Txt>
      <Txt x={545} y={709} s={12.5}>resting membrane potential (mV)</Txt>
      <Txt x={401} y={491} s={17} bold lh="10px">{"*\n*\n*\n*"}</Txt>
      <Txt x={379} y={535} s={17} bold lh="10px">{"*\n*\n*\n*"}</Txt>

      {/* D texts */}
      <Txt x={12} y={753} s={19} it>D</Txt>
      <Txt x={110} y={752} a="l" s={12.5}>burst firing (n = 25 cells)</Txt>
      <Txt x={222} y={767} s={12.5}>Spearman’s rank correlation coefficient</Txt>
      <Txt x={222} y={782} s={12.5}>ρ = -0.421, p&lt;0.05 (*)</Txt>
      <Txt x={31} y={868} s={17} rot={-90}>Cv</Txt>
      <Txt x={221} y={1003} s={17}>RMP (mV)</Txt>
      <Txt x={499} y={821} a="l" s={12.5}>regular firing (n = 29 cells)</Txt>
      <Txt x={613} y={836} s={12.5}>Spearman’s rank correlation coefficient</Txt>
      <Txt x={613} y={849} s={12.5}>ρ = -0.232, p&gt;0.05</Txt>
    </div>
  );
}
